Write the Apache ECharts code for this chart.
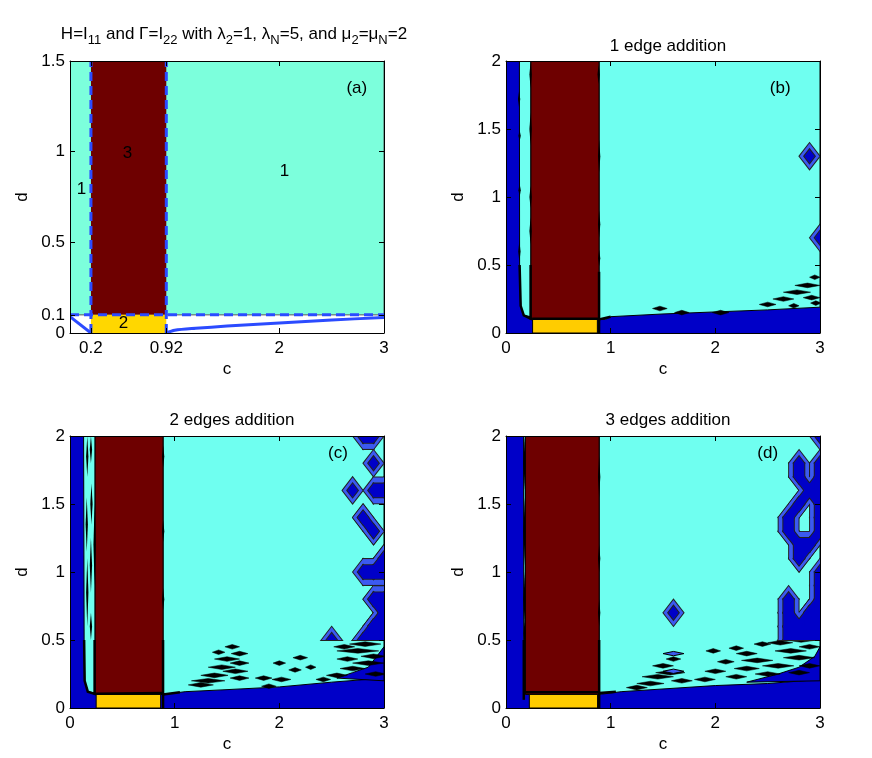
<!DOCTYPE html>
<html>
<head>
<meta charset="utf-8">
<script src="https://cdn.jsdelivr.net/npm/echarts@6/dist/echarts.min.js"></script>
<style>
html, body { margin: 0; padding: 0; background: #fff; }
#chart { width: 872px; height: 758px; }
</style>
</head>
<body>
<div id="chart"></div>
<script>
// ---------- values (c on x, d on y) ----------
var panelTitles = ['', '1 edge addition', '2 edges addition', '3 edges addition'];
var panelTags = ['(a)', '(b)', '(c)', '(d)'];
var tagPos = [[2.74, 1.35], [2.62, 1.80], [2.56, 1.87], [2.50, 1.87]];

// panel (a)
var xTicksA = [0.2, 0.92, 2, 3];
var yTicksA = [0, 0.1, 0.5, 1, 1.5];
var bandA = [0.2, 0.92];            // c range of the middle band
var splitA = 0.1;                   // d where the regions change
var curveA = [[0.92, 0], [1.0, 0.015], [1.2, 0.026], [1.5, 0.038], [2.0, 0.055], [2.5, 0.072], [3.0, 0.085]];
var diagA = [[0, 0.09], [0.2, 0]];
var labelsA = [['1', 0.11, 0.79], ['3', 0.55, 0.99], ['1', 2.05, 0.89], ['2', 0.51, 0.055]];

// panels (b)-(d): maroon / yellow column bounds
var maroonB = [0.238, 0.889], yellowB = [0.254, 0.873];
var maroonC = [0.24, 0.889],  yellowC = [0.25, 0.866];
var maroonD = [0.185, 0.89],  yellowD = [0.223, 0.875];

// lower edge of the big cyan region
var edgeB = [[0.889, 0.1], [0.95, 0.1], [1.0, 0.12], [1.5, 0.14], [2.0, 0.155], [2.5, 0.17], [3.0, 0.19]];
var edgeC = [[0.889, 0.1], [1.0, 0.11], [1.1, 0.12], [1.5, 0.135], [2.0, 0.155], [2.5, 0.19], [3.0, 0.22]];
var edgeD = [[0.89, 0.1], [1.0, 0.11], [1.1, 0.12], [1.5, 0.14], [2.0, 0.165], [2.5, 0.18], [3.0, 0.21]];

// thin cyan strip left of the maroon column
var stripB = [[0.128, 2], [0.13, 0.5], [0.14, 0.2], [0.17, 0.13], [0.238, 0.12], [0.238, 2]];
var stripC = [[0.13, 2], [0.135, 0.5], [0.14, 0.2], [0.17, 0.12], [0.24, 0.11], [0.24, 2]];
var stripD = [[0.168, 2], [0.17, 0.12], [0.185, 0.12], [0.185, 2]];

// dark blue patches inside the streaky zone
var blobsB = [];
var blobsC = [[[2.55, 0.22], [2.7, 0.26], [2.85, 0.3], [2.95, 0.4], [3, 0.45], [3, 0.2]]];
var blobsD = [[[2.3, 0.19], [2.6, 0.25], [2.8, 0.3], [2.95, 0.38], [3, 0.45], [3, 0.2]]];

// rough black contour noise along edges
var noiseB = [[[0.13, 0.5], [0.14, 0.2], [0.17, 0.13], [0.25, 0.1]], [[0.235, 0.5], [0.235, 0.1]], [[0.25, 0.105], [0.889, 0.105]], [[0.889, 0.45], [0.889, 0]], [[0.889, 0.1], [1.0, 0.12]]];
var noiseC = [[[0.135, 0.5], [0.14, 0.2], [0.17, 0.12], [0.25, 0.1]], [[0.235, 0.5], [0.235, 0.1]], [[0.25, 0.105], [0.889, 0.11]], [[0.889, 0.5], [0.889, 0]], [[0.889, 0.1], [1.05, 0.115]]];
var noiseD = [[[0.17, 0.5], [0.17, 0.06]], [[0.185, 0.115], [0.89, 0.115]], [[0.89, 0.5], [0.89, 0]], [[0.89, 0.11], [1.05, 0.12]]];

// vertical black streaks [c, d, half length]
var vStreaksB = [[0.125, 1.72, 0.06], [0.13, 1.45, 0.04], [0.13, 1.05, 0.05], [0.128, 0.6, 0.08], [0.235, 1.9, 0.1], [0.235, 1.5, 0.12], [0.235, 1.0, 0.08], [0.235, 0.75, 0.1], [0.885, 1.9, 0.07], [0.89, 1.3, 0.12], [0.89, 0.8, 0.1], [0.89, 0.55, 0.06]];
var vStreaksC = [[0.165, 1.85, 0.15], [0.16, 1.35, 0.2], [0.165, 0.85, 0.25], [0.2, 1.9, 0.1], [0.205, 1.5, 0.15], [0.2, 1.05, 0.2], [0.2, 0.6, 0.1], [0.235, 1.2, 0.3], [0.89, 1.85, 0.08], [0.89, 1.3, 0.08], [0.89, 0.8, 0.08]];
var vStreaksD = [[0.175, 1.8, 0.2], [0.175, 1.3, 0.25], [0.175, 0.8, 0.2], [0.178, 0.55, 0.1], [0.89, 1.7, 0.15], [0.89, 1.1, 0.1], [0.89, 0.7, 0.1]];

// horizontal black streaks [c, d, half length]
var streaksB = [[1.47, 0.18, 0.07], [1.68, 0.15, 0.07], [2.05, 0.15, 0.08], [2.5, 0.21, 0.08], [2.65, 0.25, 0.1], [2.78, 0.3, 0.13], [2.88, 0.35, 0.12], [2.95, 0.41, 0.05], [2.92, 0.26, 0.08], [2.96, 0.22, 0.05], [2.75, 0.2, 0.05]];
var streaksC = [[1.55, 0.45, 0.07], [1.42, 0.41, 0.06], [1.62, 0.4, 0.08], [1.5, 0.36, 0.12], [1.62, 0.33, 0.09], [1.45, 0.3, 0.13], [1.58, 0.27, 0.12], [1.38, 0.24, 0.13], [1.62, 0.22, 0.09], [1.32, 0.2, 0.16], [1.25, 0.17, 0.12], [2.2, 0.37, 0.07], [2.0, 0.33, 0.06], [2.3, 0.3, 0.05], [2.15, 0.28, 0.06], [1.85, 0.22, 0.08], [2.02, 0.21, 0.09], [1.9, 0.16, 0.07], [2.62, 0.45, 0.1], [2.82, 0.47, 0.15], [2.75, 0.42, 0.2], [2.9, 0.38, 0.12], [2.65, 0.36, 0.1], [2.85, 0.33, 0.15], [2.7, 0.29, 0.12], [2.92, 0.25, 0.1], [2.55, 0.24, 0.1], [2.42, 0.21, 0.07]];
var streaksD = [[1.6, 0.36, 0.07], [1.5, 0.31, 0.1], [1.57, 0.26, 0.14], [1.45, 0.23, 0.15], [1.68, 0.2, 0.1], [1.38, 0.18, 0.13], [1.25, 0.15, 0.1], [1.98, 0.42, 0.07], [2.2, 0.44, 0.07], [2.45, 0.47, 0.08], [2.62, 0.48, 0.12], [2.82, 0.5, 0.15], [2.3, 0.4, 0.1], [2.72, 0.42, 0.15], [2.9, 0.45, 0.1], [2.1, 0.34, 0.08], [2.4, 0.35, 0.15], [2.8, 0.37, 0.15], [2.0, 0.27, 0.1], [2.3, 0.29, 0.12], [2.6, 0.31, 0.15], [2.9, 0.31, 0.1], [1.9, 0.21, 0.1], [2.2, 0.23, 0.1], [2.5, 0.25, 0.12], [2.8, 0.26, 0.1]];

// small blue bars [c, d, half length]
var barsD = [[1.6, 0.4, 0.1], [1.6, 0.27, 0.1]];

// coarse grid cells that dip to the low level: [c, d, upperHalfOnly]
var cellsB = [[2.9, 1.3], [3.0, 0.7]];
var cellsC = [[2.8, 2.0], [2.9, 2.0], [2.9, 1.8], [2.7, 1.6], [2.9, 1.6], [3.0, 1.6], [2.8, 1.4], [2.9, 1.3],
  [2.8, 1.0], [2.9, 1.0], [3.0, 1.0], [3.0, 1.1], [2.9, 0.8], [3.0, 0.8], [3.0, 0.7], [2.9, 0.6], [3.0, 0.6],
  [2.8, 0.5, 1], [2.9, 0.5, 1], [3.0, 0.5, 1], [2.5, 0.5, 1]];
var cellsD = [[3.0, 2.0], [2.8, 1.8], [2.8, 1.7], [3.0, 1.8], [3.0, 1.7], [2.9, 1.6], [3.0, 1.6], [3.0, 1.5],
  [2.8, 1.5], [2.7, 1.4], [2.7, 1.3], [3.0, 1.4], [3.0, 1.3], [2.8, 1.2], [2.9, 1.2], [2.8, 1.1], [3.0, 1.0],
  [3.0, 0.9], [2.7, 0.8], [2.7, 0.7], [2.7, 0.6], [2.8, 0.6], [2.9, 0.6], [3.0, 0.6], [2.9, 0.7], [3.0, 0.8],
  [3.0, 0.7], [2.7, 0.5, 1], [2.8, 0.5, 1], [2.9, 0.5, 1], [3.0, 0.5, 1], [1.6, 0.7]];

// ---------- styles ----------
var FONT = '"Liberation Sans", Arial, Helvetica, sans-serif';
var FS = 17;
var CYAN_A = '#7cffdc', CYAN = '#6ffff0', MAROON = '#6e0000', YELLOW_A = '#ffd700', YELLOW = '#ffcc00';
var DARK = '#0000c8', MID = '#3c5af0', LINE_BLUE = '#2b4bff';
var grids = [
    { left: 70, top: 61, width: 314, height: 272 },
    { left: 506, top: 61, width: 314, height: 272 },
    { left: 70, top: 436, width: 314, height: 272 },
    { left: 506, top: 436, width: 314, height: 272 }
];

function poly(pts, fill, stroke, lw) { return { pts: pts, fill: fill, stroke: stroke, lw: lw }; }
function line(pts, stroke, lw, dash, smooth) { return { pts: pts, open: true, stroke: stroke, lw: lw, dash: dash, smooth: smooth }; }
function rect(c1, c2, d1, d2) { return [[c1, d1], [c2, d1], [c2, d2], [c1, d2]]; }
function lens(c, d, hw, hh) { return [[c - hw, d], [c, d + hh], [c + hw, d], [c, d - hh]]; }

// diamonds for every low cell plus bridges to side and diagonal neighbours
function cellShapes(cells, r) {
    var out = [];
    function has(c, d) {
        c = +c.toFixed(2); d = +d.toFixed(2);
        for (var i = 0; i < cells.length; i++) {
            if (Math.abs(cells[i][0] - c) < 1e-6 && Math.abs(cells[i][1] - d) < 1e-6) return cells[i];
        }
        return null;
    }
    cells.forEach(function (k) {
        var c = k[0], d = k[1], half = !!k[2];
        var bottom = half ? [c, d] : [c, d - r];
        out.push(half ? [[c - r, d], [c, d + r], [c + r, d]] : lens(c, d, r, r));
        var right = has(c + 0.1, d);
        if (right) out.push(half && right[2] ? [[c, d], [c + 0.1, d], [c + 0.1, d + r], [c, d + r]] : rect(c, c + 0.1, d - r, d + r));
        if (has(c, d + 0.1)) out.push(rect(c - r, c + r, d, d + 0.1));
        if (has(c + 0.1, d + 0.1)) {
            out.push(half ? [[c - r, d], [c + r, d], [c + 0.1 + r, d + 0.1], [c + 0.1, d + 0.1 + r]]
                          : [[c - r, d], bottom, [c + 0.1 + r, d + 0.1], [c + 0.1, d + 0.1 + r]]);
        }
        if (has(c - 0.1, d + 0.1)) {
            out.push(half ? [[c - r, d], [c + r, d], [c - 0.1, d + 0.1 + r], [c - 0.1 - r, d + 0.1]]
                          : [bottom, [c + r, d], [c - 0.1, d + 0.1 + r], [c - 0.1 - r, d + 0.1]]);
        }
    });
    return out;
}

function panelShapes(P) {
    var s = [];
    s.push(poly(rect(0, 3, 0, 2), DARK));
    s.push(poly(P.strip, CYAN, '#000', 1));
    s.push(poly([[P.maroon[1], 2]].concat(P.edge).concat([[3, 2]]), CYAN, '#000', 1));
    s.push(poly(rect(P.maroon[0], P.maroon[1], 0.1, 2), MAROON, '#000', 1));
    s.push(poly(rect(P.yellow[0], P.yellow[1], 0, 0.1), YELLOW, '#000', 1));
    P.blobs.forEach(function (b) { s.push(poly(b, DARK, '#000', 1)); });
    P.noise.forEach(function (n) { s.push(line(n, '#000', 2.5)); });
    P.vStreaks.forEach(function (v) { s.push(poly(lens(v[0], v[1], 0.011, v[2]), '#000')); });
    P.streaks.forEach(function (v) { s.push(poly(lens(v[0], v[1], v[2], 0.017), '#000', '#000', 0.5)); });
    (P.bars || []).forEach(function (v) { s.push(poly(lens(v[0], v[1], v[2], 0.016), MID, '#000', 1)); });
    var outer = cellShapes(P.cells, 0.095), inner = cellShapes(P.cells, 0.05);
    outer.forEach(function (p) { s.push(poly(p, MID, '#222', 2)); });
    outer.forEach(function (p) { s.push(poly(p, MID)); });
    inner.forEach(function (p) { s.push(poly(p, DARK, '#222', 2)); });
    inner.forEach(function (p) { s.push(poly(p, DARK)); });
    return s;
}

var shapesA = [
    poly(rect(0, 3, splitA, 1.5), CYAN_A, '#555', 1),
    poly(rect(bandA[0], bandA[1], splitA, 1.5), MAROON),
    poly(rect(bandA[0], bandA[1], 0, splitA), YELLOW_A),
    line(diagA, LINE_BLUE, 3),
    line(curveA, LINE_BLUE, 3, null, 0.3),
    line([[bandA[0], 0], [bandA[0], 1.5]], LINE_BLUE, 3, [9, 5]),
    line([[bandA[1], 0], [bandA[1], 1.5]], LINE_BLUE, 3, [9, 5]),
    line([[0, splitA], [3, splitA]], LINE_BLUE, 3, [9, 5])
];
labelsA.forEach(function (l) { shapesA.push({ text: l[0], at: [l[1], l[2]] }); });

var panels = [
    shapesA,
    panelShapes({ strip: stripB, edge: edgeB, maroon: maroonB, yellow: yellowB, blobs: blobsB, noise: noiseB, vStreaks: vStreaksB, streaks: streaksB, cells: cellsB }),
    panelShapes({ strip: stripC, edge: edgeC, maroon: maroonC, yellow: yellowC, blobs: blobsC, noise: noiseC, vStreaks: vStreaksC, streaks: streaksC, cells: cellsC }),
    panelShapes({ strip: stripD, edge: edgeD, maroon: maroonD, yellow: yellowD, blobs: blobsD, noise: noiseD, vStreaks: vStreaksD, streaks: streaksD, cells: cellsD, bars: barsD })
];
panels.forEach(function (list, i) { list.push({ text: panelTags[i], at: tagPos[i] }); });

function renderShape(shape, api) {
    if (shape.text) {
        var p = api.coord(shape.at);
        return { type: 'text', x: p[0], y: p[1], style: { text: shape.text, fill: '#000', font: FS + 'px ' + FONT, textAlign: 'center', textVerticalAlign: 'middle' } };
    }
    var pts = shape.pts.map(function (q) { return api.coord(q); });
    if (shape.open) {
        return { type: 'polyline', shape: { points: pts, smooth: shape.smooth || 0 }, style: { fill: null, stroke: shape.stroke, lineWidth: shape.lw, lineDash: shape.dash || null } };
    }
    return { type: 'polygon', shape: { points: pts }, style: { fill: shape.fill, stroke: shape.stroke || null, lineWidth: shape.lw || 0 } };
}

// ---------- axes ----------
var xAxes = [], yAxes = [], series = [];
var tickStyle = { show: true, inside: true, length: 5, lineStyle: { color: '#000', width: 1 } };
var lineStyle = { show: true, onZero: false, lineStyle: { color: '#000', width: 1 } };
var labelStyle = { color: '#000', fontSize: FS, fontFamily: FONT, margin: 7 };

grids.forEach(function (g, i) {
    var isA = i === 0;
    var xb = { gridIndex: i, type: 'value', min: 0, max: 3, z: 10, splitLine: { show: false }, axisLine: lineStyle };
    var yb = { gridIndex: i, type: 'value', min: 0, max: isA ? 1.5 : 2, z: 10, splitLine: { show: false }, axisLine: lineStyle };
    if (isA) {
        xb.axisTick = Object.assign({ customValues: xTicksA }, tickStyle);
        yb.axisTick = Object.assign({ customValues: yTicksA }, tickStyle);
    } else {
        xb.interval = 1; yb.interval = 0.5;
        xb.axisTick = tickStyle; yb.axisTick = tickStyle;
    }
    var xBottom = Object.assign({}, xb, {
        position: 'bottom', name: 'c', nameLocation: 'middle', nameGap: 28,
        nameTextStyle: { color: '#000', fontSize: FS, fontFamily: FONT },
        axisLabel: Object.assign(isA ? { customValues: xTicksA } : {}, labelStyle)
    });
    var xTop = Object.assign({}, xb, { position: 'top', axisLabel: { show: false } });
    var yLeft = Object.assign({}, yb, {
        position: 'left', name: 'd', nameLocation: 'middle', nameGap: 39, nameRotate: 90,
        nameTextStyle: { color: '#000', fontSize: FS, fontFamily: FONT },
        axisLabel: Object.assign(isA ? { customValues: yTicksA } : {}, labelStyle, { margin: 5 })
    });
    var yRight = Object.assign({}, yb, { position: 'right', axisLabel: { show: false } });
    xAxes.push(xBottom, xTop);
    yAxes.push(yLeft, yRight);

    var list = panels[i];
    series.push({
        type: 'custom',
        xAxisIndex: i * 2,
        yAxisIndex: i * 2,
        clip: true,
        silent: true,
        animation: false,
        data: list.map(function (s, k) { return [k, 0]; }),
        renderItem: function (params, api) { return renderShape(list[params.dataIndex], api); }
    });
});

var titles = [
    {
        text: '{n|H=I}{s|11}{n| and Γ=I}{s|22}{n| with λ}{s|2}{n|=1, λ}{s|N}{n|=5, and μ}{s|2}{n|=μ}{s|N}{n|=2}',
        left: 229, top: 17, textAlign: 'center',
        textStyle: { rich: {
            n: { fontSize: FS, fontWeight: 'normal', color: '#000', fontFamily: FONT },
            s: { fontSize: 13, fontWeight: 'normal', color: '#000', fontFamily: FONT, padding: [12, 0, 0, 0] }
        } }
    },
    { text: panelTitles[1], left: 663, top: 33, textAlign: 'center' },
    { text: panelTitles[2], left: 227, top: 407, textAlign: 'center' },
    { text: panelTitles[3], left: 663, top: 407, textAlign: 'center' }
];
titles.forEach(function (t, i) {
    if (i > 0) t.textStyle = { fontSize: FS, fontWeight: 'normal', color: '#000', fontFamily: FONT };
});

var chart = echarts.init(document.getElementById('chart'));
chart.setOption({
    backgroundColor: '#fff',
    animation: false,
    title: titles,
    grid: grids,
    xAxis: xAxes,
    yAxis: yAxes,
    series: series
});
</script>
</body>
</html>
